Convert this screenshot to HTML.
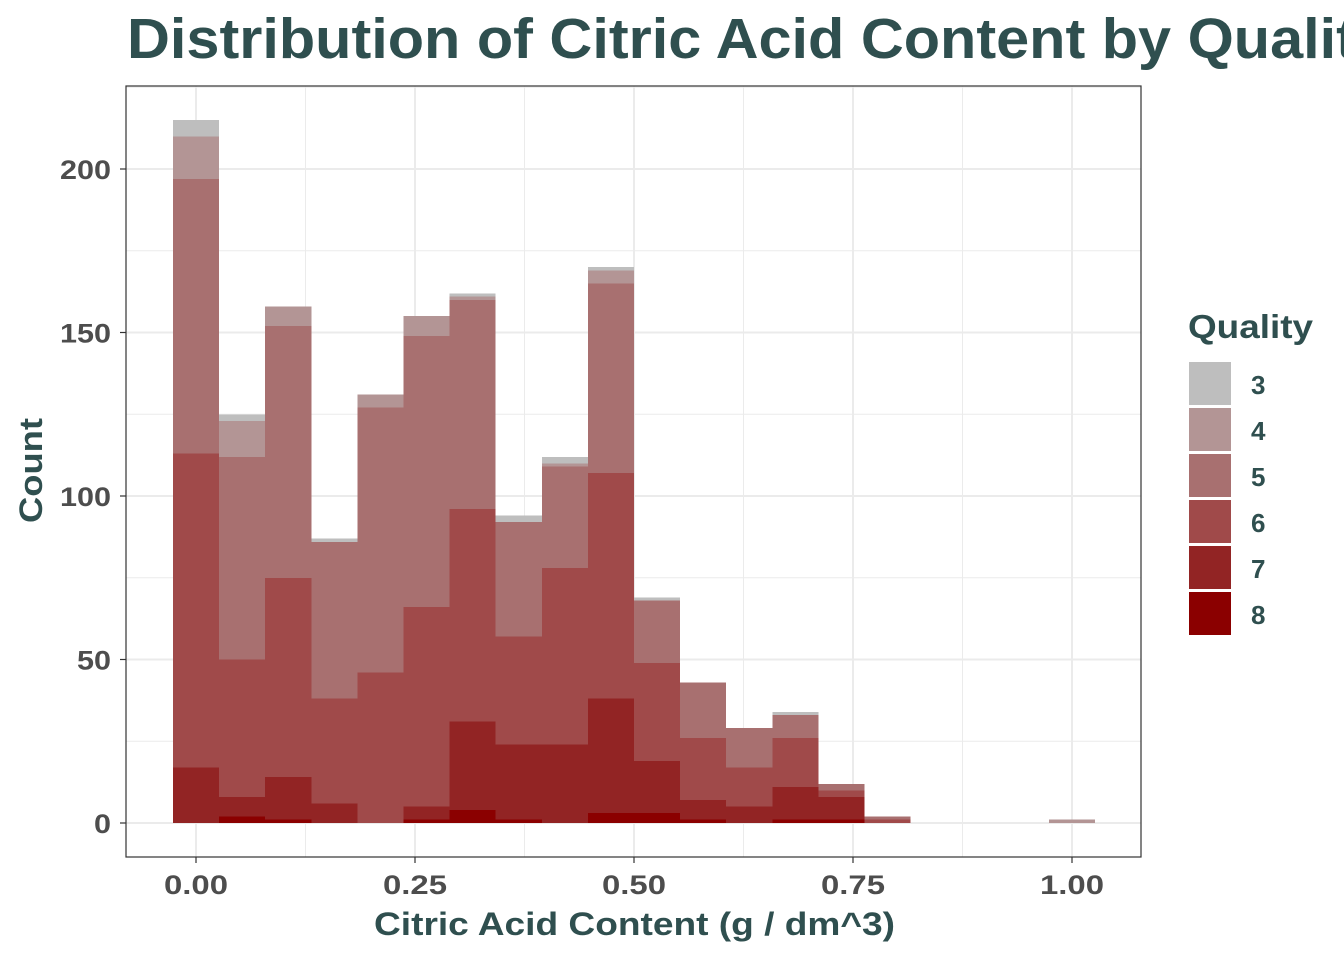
<!DOCTYPE html>
<html><head><meta charset="utf-8"><style>
body{margin:0;background:#fff;width:1344px;height:960px;overflow:hidden;font-family:"Liberation Sans",sans-serif}
</style></head><body>
<svg id="chart" width="1344" height="960" font-family="Liberation Sans, sans-serif">
<text x="127" y="58" font-size="57" font-weight="bold" fill="#2f4f4f" textLength="1262" lengthAdjust="spacingAndGlyphs">Distribution of Citric Acid Content by Quality</text>
<g id="grid"></g>
<g id="bars" shape-rendering="crispEdges"></g>
<rect x="126" y="86" width="1015" height="771" fill="none" stroke="#333" stroke-width="1.2"/>
<g id="axes"></g>
<text x="374" y="935" font-size="32" font-weight="bold" fill="#2f4f4f" textLength="521" lengthAdjust="spacingAndGlyphs">Citric Acid Content (g / dm^3)</text>
<text transform="translate(42,523) rotate(-90)" font-size="32" font-weight="bold" fill="#2f4f4f" textLength="105" lengthAdjust="spacingAndGlyphs">Count</text>
<text x="1188" y="338" font-size="33" font-weight="bold" fill="#2f4f4f" textLength="125" lengthAdjust="spacingAndGlyphs">Quality</text>
<g id="legend"></g>
</svg>
<script>
const binCenters=[0,1,2,3,4,5,6,7,8,9,10,11,12,13,14,15,16,17,18,19].map(k=>k/19);
const qualities=["3","4","5","6","7","8"];
const q8=[0,2,1,0,0,1,4,1,0,3,3,1,0,1,1,0,0,0,0,0];
const q7=[17,6,13,6,0,4,27,23,24,35,16,6,5,10,7,0,0,0,0,0];
const q6=[96,42,61,32,46,61,65,33,54,69,30,19,12,15,2,1,0,0,0,0];
const q5=[84,62,77,48,81,83,64,35,31,58,19,17,12,7,2,1,0,0,0,0];
const q4=[13,11,6,0,4,6,1,0,1,4,0,0,0,0,0,0,0,0,0,1];
const q3=[5,2,0,1,0,0,1,2,2,1,1,0,0,1,0,0,0,0,0,0];
const yTicks=[0,50,100,150,200];
const xTicks=[0,0.25,0.5,0.75,1.0];
const xTickLabels=["0.00","0.25","0.50","0.75","1.00"];
const colors=["#bebebe","#b39595","#a87070","#a04a4a","#922424","#8b0000"];
const series=[q3,q4,q5,q6,q7,q8];
const binW=1/19;
const X=v=>196+v*876, Y=v=>823-v*3.27;
const NS="http://www.w3.org/2000/svg";
function mk(p,t,a){const e=document.createElementNS(NS,t);for(const k in a)e.setAttribute(k,a[k]);p.appendChild(e);return e;}
const grid=document.getElementById('grid'),bars=document.getElementById('bars'),axes=document.getElementById('axes'),legend=document.getElementById('legend');
mk(grid,'rect',{x:126,y:86,width:1015,height:771,fill:'#fff'});
for(let v=-0.125;v<=1.126;v+=0.125){const x=X(v);if(x<126||x>1141)continue;const major=Math.abs(v*4-Math.round(v*4))<1e-6;
const l=mk(grid,'line',{x1:x,x2:x,y1:86,y2:857,stroke:'#ebebeb','stroke-width':major?2:1});

}
for(let v=-25;v<=225;v+=25){const y=Y(v);if(y<86||y>857)continue;const major=v%50===0;
const l=mk(grid,'line',{x1:126,x2:1141,y1:y,y2:y,stroke:'#ebebeb','stroke-width':major?2:1});

}
binCenters.forEach((c,i)=>{let base=0;
for(let s=series.length-1;s>=0;s--){const v=series[s][i];if(v>0){
const r=mk(bars,'rect',{x:X(c-binW/2),width:X(binW)-X(0),y:Y(base+v),height:Y(base)-Y(base+v),fill:colors[s]});

}
base+=v;}});
yTicks.forEach(v=>{const y=Y(v);mk(axes,'line',{x1:120,x2:126,y1:y,y2:y,stroke:'#333','stroke-width':1.2});
const s=String(v);
const t=mk(axes,'text',{x:111,y:y+10,'text-anchor':'end','font-size':27,'font-weight':'bold',fill:'#4d4d4d',textLength:s.length*17,lengthAdjust:'spacingAndGlyphs'});t.textContent=s;

});
xTicks.forEach((v,i)=>{const x=X(v);mk(axes,'line',{x1:x,x2:x,y1:857,y2:863,stroke:'#333','stroke-width':1.2});
const t=mk(axes,'text',{x:x-32,y:894,'font-size':27,'font-weight':'bold',fill:'#4d4d4d',textLength:64,lengthAdjust:'spacingAndGlyphs'});t.textContent=xTickLabels[i];

});
qualities.forEach((q,i)=>{const y=362+i*46;
const r=mk(legend,'rect',{x:1189,y:y,width:42,height:43,fill:colors[i]});


const t=mk(legend,'text',{x:1251,y:y+32,'font-size':26,'font-weight':'bold',fill:'#2f4f4f'});t.textContent=q;

});
</script>
</body></html>
